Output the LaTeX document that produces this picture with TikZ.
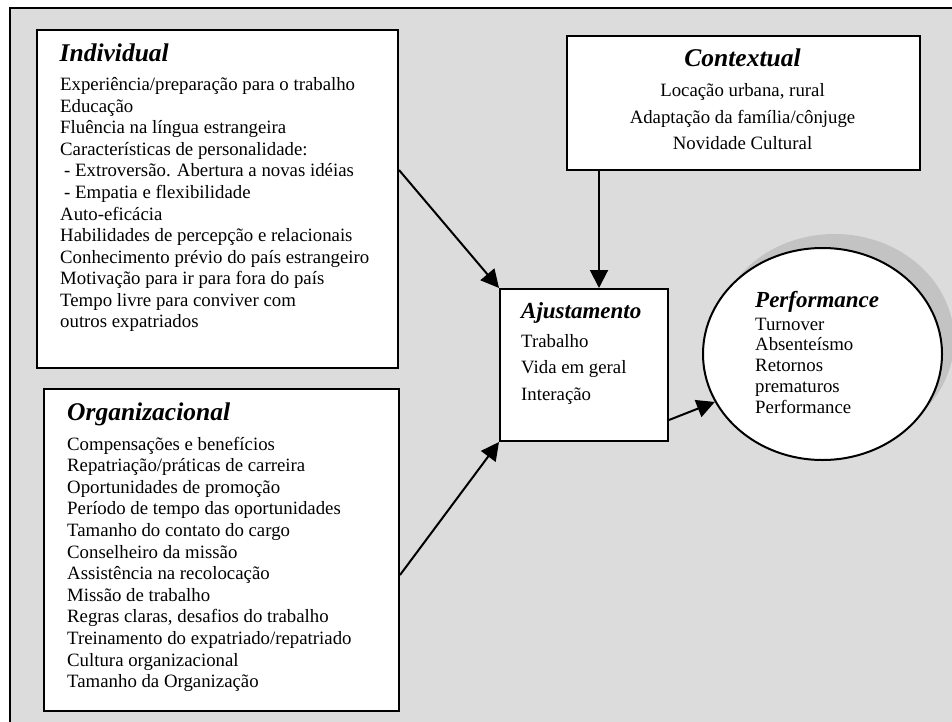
\documentclass[tikz,border=0pt]{standalone}
\usepackage{fontspec}
\setmainfont{Liberation Serif}
\usetikzlibrary{arrows.meta,shapes.geometric}
\definecolor{bg}{HTML}{DCDCDC}
\definecolor{shad}{HTML}{C3C3C3}
\begin{document}
\begin{tikzpicture}[x=1pt,y=-1pt,
  box/.style={draw=black, line width=2pt, fill=white, inner sep=0pt, anchor=north west},
  arr/.style={line width=2pt, -{Triangle[length=18pt,width=18pt]}},
  body/.style={inner sep=0pt, font=\fontsize{18.8}{21}\selectfont},
  bigtitle/.style={inner sep=0pt, font=\fontsize{25.5}{30}\selectfont\bfseries\itshape},
  midtitle/.style={inner sep=0pt, font=\fontsize{23}{27}\selectfont\bfseries\itshape}]
\useasboundingbox (0,0) rectangle (952,722);
\fill[white] (0,0) rectangle (952,722);
% outer frame
\fill[bg] (10,8) rectangle (952,722);
\draw[line width=2pt] (10,722) -- (10,8) -- (952,8);
% shadow of performance ellipse
\begin{scope}
\clip (0,0) rectangle (952,722);
\node[ellipse, fill=shad, inner sep=0pt, minimum width=239pt, minimum height=212pt] (perfshadow) at (834.5,340) {};
\end{scope}
% boxes
\node[box, minimum width=361pt, minimum height=338pt] (ind) at (36,29) {};
\node[box, minimum width=355pt, minimum height=322pt] (org) at (43,388) {};
\node[box, minimum width=353pt, minimum height=134pt] (ctx) at (566,35) {};
\node[box, minimum width=168pt, minimum height=152pt] (adj) at (499,288) {};
\node[ellipse, draw=black, line width=2pt, fill=white, inner sep=0pt, minimum width=239pt, minimum height=212pt] (perf) at (822.5,354) {};
% Individual
\node[bigtitle, anchor=base west] (indt) at (59.5,62) {Individual};
\foreach \t [count=\i] in {
  {Experiência/preparação para o trabalho},
  {Educação},
  {Fluência na língua estrangeira},
  {Características de personalidade:},
  {\hspace{4pt}- Extroversão. Abertura a novas idéias},
  {\hspace{4pt}- Empatia e flexibilidade},
  {Auto-eficácia},
  {Habilidades de percepção e relacionais},
  {Conhecimento prévio do país estrangeiro},
  {Motivação para ir para fora do país},
  {Tempo livre para conviver com},
  {outros expatriados}}
  \node[body, anchor=base west] (ind\i) at (60,{91+(\i-1)*21.5}) {\t};
% Organizacional
\node[bigtitle, anchor=base west] (orgt) at (67,420) {Organizacional};
\foreach \t [count=\i] in {
  {Compensações e benefícios},
  {Repatriação/práticas de carreira},
  {Oportunidades de promoção},
  {Período de tempo das oportunidades},
  {Tamanho do contato do cargo},
  {Conselheiro da missão},
  {Assistência na recolocação},
  {Missão de trabalho},
  {Regras claras, desafios do trabalho},
  {Treinamento do expatriado/repatriado},
  {Cultura organizacional},
  {Tamanho da Organização}}
  \node[body, anchor=base west] (org\i) at (67,{450+(\i-1)*21.6}) {\t};
% Contextual
\node[bigtitle, anchor=base] (ctxt) at (742.5,67) {Contextual};
\foreach \t [count=\i] in {
  {Locação urbana, rural},
  {Adaptação da família/cônjuge},
  {Novidade Cultural}}
  \node[body, anchor=base] (ctx\i) at (742.5,{97+(\i-1)*26.5}) {\t};
% Ajustamento
\node[midtitle, anchor=base west] (adjt) at (521,318) {Ajustamento};
\foreach \t [count=\i] in {
  {Trabalho},
  {Vida em geral},
  {Interação}}
  \node[body, anchor=base west] (adj\i) at (521,{347+(\i-1)*26.5}) {\t};
% Performance
\node[midtitle, anchor=base west] (perft) at (755,307) {Performance};
\foreach \t [count=\i] in {
  {Turnover},
  {Absenteísmo},
  {Retornos},
  {prematuros},
  {Performance}}
  \node[body, anchor=base west] (perf\i) at (755,{330+(\i-1)*20.8}) {\t};
% connectors
\draw[arr] (ind.east |- 0,170) -- (adj.north west);
\draw[arr] (org.east |- 0,575) -- (adj.south west);
\draw[arr] (ctx.south -| 599,0) -- (adj.north -| 599,0);
\draw[arr] (adj.east |- 0,420) -- (perf.204);
\end{tikzpicture}
\end{document}
